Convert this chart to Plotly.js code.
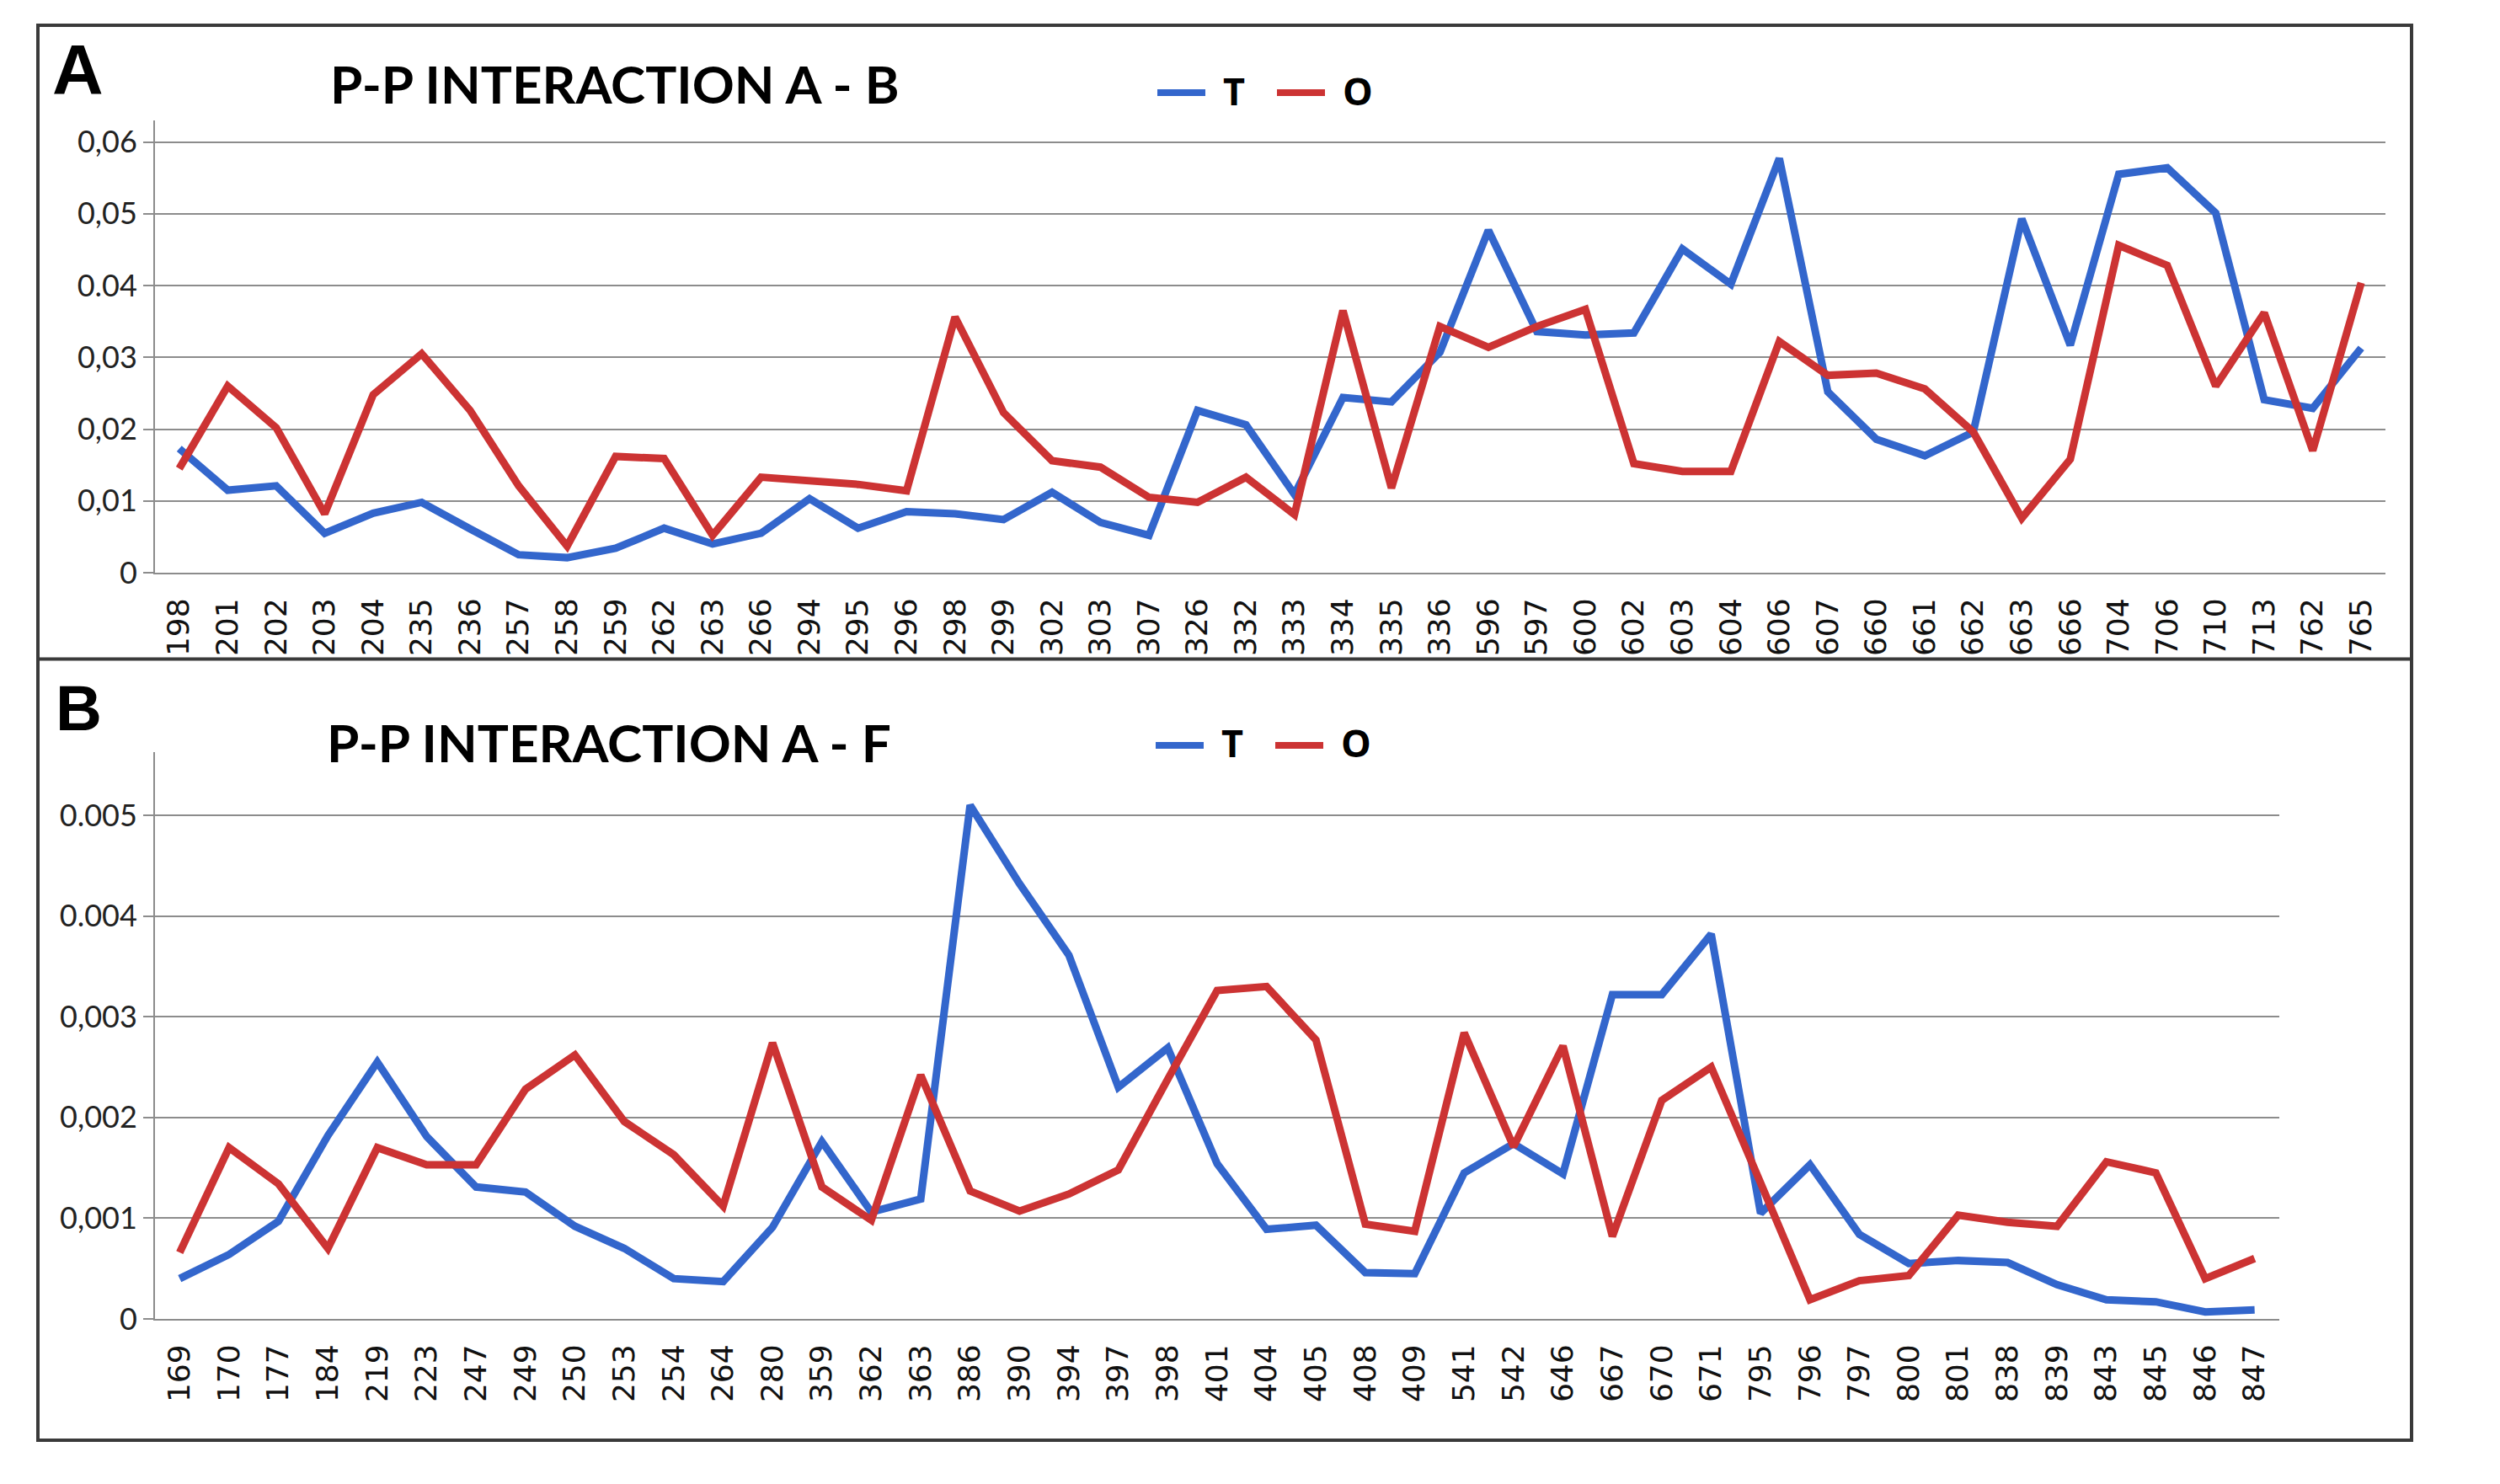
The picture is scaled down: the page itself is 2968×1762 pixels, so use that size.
<!DOCTYPE html>
<html>
<head>
<meta charset="utf-8">
<script src="https://cdn.plot.ly/plotly-3.0.1.min.js"></script>
<style>html,body{margin:0;padding:0;background:#fff;}#chart{width:2968px;height:1762px;}</style>
</head>
<body>
<div id="chart"></div>
<script>
// ---- Panel A data: P-P INTERACTION A - B ----
const categoriesA = ['198','201','202','203','204','235','236','257','258','259','262','263','266','294','295','296','298','299','302','303','307','326','332','333','334','335','336','596','597','600','602','603','604','606','607','660','661','662','663','666','704','706','710','713','762','765'];
const seriesA_T = [0.0173,0.0115,0.0121,0.0055,0.0083,0.0098,0.0061,0.0025,0.0021,0.0034,0.0062,0.0040,0.0055,0.0103,0.0062,0.0085,0.0082,0.0074,0.0112,0.0070,0.0052,0.0226,0.0206,0.0109,0.0244,0.0238,0.0307,0.0477,0.0336,0.0331,0.0334,0.0451,0.0402,0.0577,0.0252,0.0186,0.0163,0.0196,0.0493,0.0317,0.0555,0.0564,0.0501,0.0241,0.0229,0.0313];
const seriesA_O = [0.0145,0.0260,0.0202,0.0082,0.0248,0.0305,0.0226,0.0121,0.0037,0.0162,0.0159,0.0052,0.0133,0.0127,0.0123,0.0114,0.0356,0.0223,0.0156,0.0147,0.0105,0.0098,0.0133,0.0081,0.0365,0.0118,0.0343,0.0314,0.0343,0.0367,0.0152,0.0141,0.0141,0.0322,0.0275,0.0278,0.0256,0.0196,0.0076,0.0158,0.0456,0.0428,0.0260,0.0362,0.0170,0.0404];
const tickValsA = [0,0.01,0.02,0.03,0.04,0.05,0.06];
const tickTextA = ['0','0,01','0,02','0,03','0.04','0,05','0,06'];

// ---- Panel B data: P-P INTERACTION A - F ----
const categoriesB = ['169','170','177','184','219','223','247','249','250','253','254','264','280','359','362','363','386','390','394','397','398','401','404','405','408','409','541','542','646','667','670','671','795','796','797','800','801','838','839','843','845','846','847'];
const seriesB_T = [0.00040,0.00064,0.00097,0.00182,0.00255,0.00181,0.00131,0.00126,0.00092,0.00070,0.00040,0.00037,0.00091,0.00176,0.00106,0.00119,0.00510,0.00432,0.00361,0.00230,0.00269,0.00154,0.00089,0.00093,0.00046,0.00045,0.00145,0.00174,0.00144,0.00322,0.00322,0.00382,0.00105,0.00153,0.00084,0.00055,0.00058,0.00056,0.00034,0.00019,0.00017,0.00007,0.00009];
const seriesB_O = [0.00066,0.00170,0.00134,0.00070,0.00170,0.00153,0.00153,0.00228,0.00262,0.00196,0.00163,0.00112,0.00274,0.00131,0.00098,0.00242,0.00127,0.00107,0.00124,0.00148,0.00238,0.00326,0.00330,0.00277,0.00094,0.00087,0.00284,0.00171,0.00271,0.00082,0.00217,0.00250,0.00135,0.00019,0.00038,0.00043,0.00103,0.00096,0.00092,0.00156,0.00145,0.00040,0.00060];
const tickValsB = [0,0.001,0.002,0.003,0.004,0.005];
const tickTextB = ['0','0,001','0,002','0,003','0.004','0.005'];

const seriesNames = ['T','O'];
const titles = ['P-P INTERACTION A - B','P-P INTERACTION A - F'];
const panelLetters = ['A','B'];

// ---- styling ----
const W = 2968, H = 1762;
const px = v => v / W;
const py = v => 1 - v / H;
const BLUE = '#3366CC', RED = '#CC3333', GRID = '#8c8c8c';
const COLORS = [BLUE, RED];
const LW = 9;

const traces = [
  {x: categoriesA, y: seriesA_T, name: seriesNames[0], type: 'scatter', mode: 'lines', line: {color: BLUE, width: LW}, xaxis: 'x', yaxis: 'y', showlegend: false},
  {x: categoriesA, y: seriesA_O, name: seriesNames[1], type: 'scatter', mode: 'lines', line: {color: RED, width: LW}, xaxis: 'x', yaxis: 'y', showlegend: false},
  {x: categoriesB, y: seriesB_T, name: seriesNames[0], type: 'scatter', mode: 'lines', line: {color: BLUE, width: LW}, xaxis: 'x2', yaxis: 'y2', showlegend: false},
  {x: categoriesB, y: seriesB_O, name: seriesNames[1], type: 'scatter', mode: 'lines', line: {color: RED, width: LW}, xaxis: 'x2', yaxis: 'y2', showlegend: false}
];

const xTickFont = {family: 'DejaVu Sans', size: 36, color: '#111'};
const yTickFont = {family: 'Lato', size: 36, color: '#222'};

function xAxis(domain, anchor, n) {
  return {
    type: 'category', domain: domain, anchor: anchor,
    range: [-0.5, n - 0.5],
    showgrid: false, zeroline: false,
    showline: true, linecolor: GRID, linewidth: 2,
    ticks: '', tickangle: -90, tickfont: xTickFont,
    ticklabelstandoff: 14,
    automargin: false, fixedrange: true
  };
}
function yAxis(domain, anchor, range, vals, text) {
  return {
    domain: domain, anchor: anchor, range: range,
    tickmode: 'array', tickvals: vals, ticktext: text,
    showgrid: true, gridcolor: GRID, gridwidth: 2,
    zeroline: false, showline: true, linecolor: GRID, linewidth: 2,
    ticks: 'outside', ticklen: 12, tickwidth: 2, tickcolor: GRID,
    tickfont: yTickFont, automargin: false, fixedrange: true
  };
}

// legend drawn per panel: line sample + label text
const legendFont = {family: 'Open Sans', size: 45, color: '#000', weight: 'bold'};
function legendItems(x0, yLine, yText) {
  const shapes = [], ann = [];
  const step = 142;
  seriesNames.forEach((nm, i) => {
    const xs = x0 + i * step;
    shapes.push({type: 'line', xref: 'paper', yref: 'paper', x0: px(xs), x1: px(xs + 57), y0: py(yLine), y1: py(yLine), line: {color: COLORS[i], width: 8}});
    ann.push({text: nm, xref: 'paper', yref: 'paper', x: px(xs + 76), y: py(yText), xanchor: 'left', yanchor: 'middle', showarrow: false, font: legendFont});
  });
  return {shapes, ann};
}
const legA = legendItems(1374, 110, 107);
const legB = legendItems(1372, 885, 881);

const layout = {
  width: W, height: H,
  margin: {l: 0, r: 0, t: 0, b: 0},
  paper_bgcolor: '#fff', plot_bgcolor: '#fff',
  showlegend: false,
  xaxis: xAxis([px(184), px(2832)], 'y', categoriesA.length),
  yaxis: yAxis([py(680), py(143)], 'x', [0, 0.063], tickValsA, tickTextA),
  xaxis2: xAxis([px(184), px(2706)], 'y2', categoriesB.length),
  yaxis2: yAxis([py(1566), py(893)], 'x2', [0, 0.005627], tickValsB, tickTextB),
  annotations: [
    {text: panelLetters[0], xref: 'paper', yref: 'paper', x: px(60), y: py(83), xanchor: 'left', yanchor: 'middle', showarrow: false, font: {family: 'Liberation Sans', size: 84, color: '#000', weight: 'bold'}},
    {text: titles[0], xref: 'paper', yref: 'paper', x: px(390), y: py(99), xanchor: 'left', yanchor: 'middle', showarrow: false, font: {family: 'Lato', size: 62, color: '#000', weight: 'bold'}},
    {text: panelLetters[1], xref: 'paper', yref: 'paper', x: px(64), y: py(840), xanchor: 'left', yanchor: 'middle', showarrow: false, font: {family: 'Liberation Sans', size: 76, color: '#000', weight: 'bold'}},
    {text: titles[1], xref: 'paper', yref: 'paper', x: px(386), y: py(881), xanchor: 'left', yanchor: 'middle', showarrow: false, font: {family: 'Lato', size: 62, color: '#000', weight: 'bold'}}
  ].concat(legA.ann, legB.ann),
  shapes: [
    {type: 'rect', xref: 'paper', yref: 'paper', x0: px(45), x1: px(2863), y0: py(30), y1: py(1710), line: {color: '#3a3a3a', width: 4}},
    {type: 'line', xref: 'paper', yref: 'paper', x0: px(45), x1: px(2863), y0: py(782.5), y1: py(782.5), line: {color: '#3a3a3a', width: 4}}
  ].concat(legA.shapes, legB.shapes)
};

Plotly.newPlot('chart', traces, layout, {staticPlot: true, displayModeBar: false});
</script>
</body>
</html>
